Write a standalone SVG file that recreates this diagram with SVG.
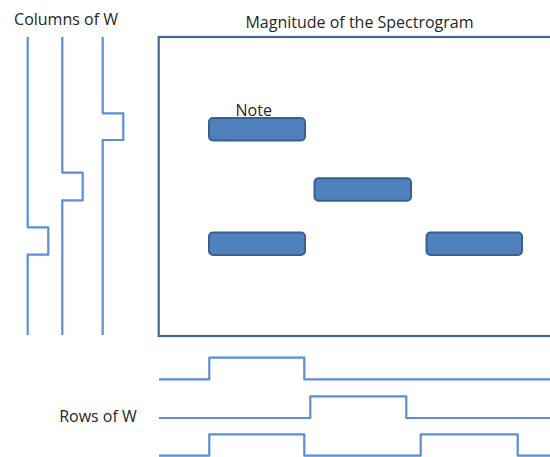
<svg xmlns="http://www.w3.org/2000/svg" width="550" height="457" viewBox="0 0 550 457">
<style>
.t{font-family:"Open Sans","Noto Sans","DejaVu Sans",sans-serif;font-size:16px;fill:#262626}
.w{fill:none;stroke:#5B8ED3;stroke-width:2.2;stroke-linejoin:round;stroke-linecap:butt}
.note{fill:#4F81BD;stroke:#3B5F8E;stroke-width:2}
.box{fill:none;stroke:#46658F;stroke-width:2.2}
</style>
<rect width="550" height="457" fill="#ffffff"/>
<g id="spectrogram">
<rect class="box" x="158.7" y="37" width="400" height="299"/>
<text class="t" x="359.5" y="28" text-anchor="middle">Magnitude of the Spectrogram</text>
</g>
<g id="note1">
<rect class="note" x="209" y="118" width="96" height="22.5" rx="4"/>
<text class="t" x="253.7" y="116" text-anchor="middle">Note</text>
</g>
<g id="note2"><rect class="note" x="314.5" y="178.3" width="96.5" height="22.5" rx="4"/></g>
<g id="note3"><rect class="note" x="209" y="232.5" width="96" height="22.5" rx="4"/></g>
<g id="note4"><rect class="note" x="426.5" y="232.5" width="95.5" height="22.5" rx="4"/></g>
<g id="columnsW">
<text class="t" x="66" y="24.5" text-anchor="middle">Columns of W</text>
<path class="w" d="M27.7,37 V227.3 H48.3 V254.7 H27.7 V335"/>
<path class="w" d="M62.3,37 V172.7 H82.7 V200.3 H62.3 V335"/>
<path class="w" d="M102.7,37 V113.3 H123.3 V140 H102.7 V335"/>
</g>
<g id="rowsW">
<text class="t" x="98" y="421.7" text-anchor="middle">Rows of W</text>
<path class="w" d="M159,379.3 H209.3 V357.7 H304.3 V379.3 H550"/>
<path class="w" d="M159,418 H310.3 V396.3 H406.3 V418 H550"/>
<path class="w" d="M159,455.7 H209.3 V434.3 H304.3 V455.7 H420.7 V434.3 H517.7 V455.7 H550"/>
</g>
<g id="connectors"></g>
</svg>
